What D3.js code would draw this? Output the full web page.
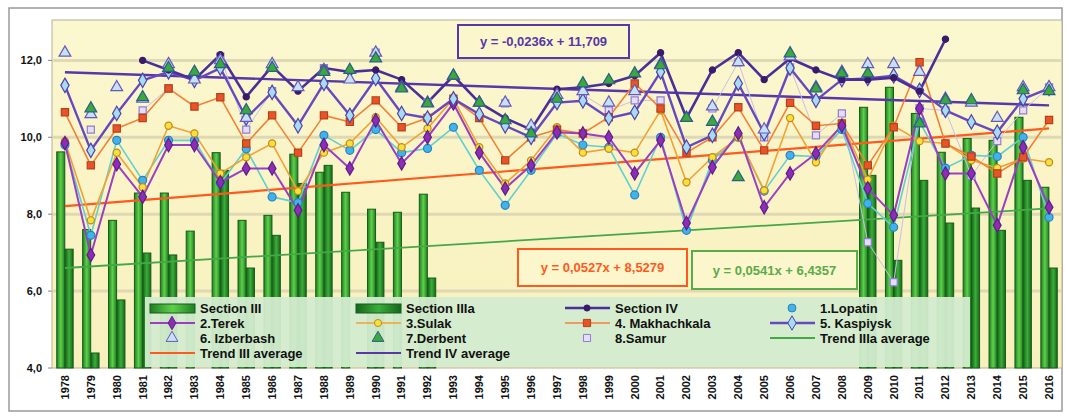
<!DOCTYPE html>
<html>
<head>
<meta charset="utf-8">
<script src="https://cdn.jsdelivr.net/npm/d3@7"></script>
<style>
  body { margin: 0; background: #fff; }
  svg { display: block; font-family: "Liberation Sans", Arial, sans-serif; }
  .lbl { font-weight: bold; fill: #111; }
</style>
</head>
<body>
<svg id="chart" width="1065" height="413"></svg>
<script>
// years on the x axis
const years = d3.range(1978, 2017);

// bars (null = no bar)
const sectionIII = [9.62, 7.6, 7.84, 8.55, 8.55, 7.56, 9.6, 7.84, 7.97, 9.56, 9.09, 8.57, 8.13, 8.05, 8.52,
  null, null, null, null, null, null, null, null, null, null, null, null, null, null, null, null,
  10.78, 11.3, 10.62, 9.61, 9.97, 9.92, 10.52, 8.7];
const sectionIIIa = [7.09, 4.39, 5.77, 6.99, 6.94, null, 9.14, 6.6, 7.45, 8.8, 9.27, null, 7.27, null, 6.34,
  null, null, null, null, null, null, null, null, null, null, null, null, null, null, null, null,
  9.01, 6.8, 8.88, 7.77, 8.16, 7.58, 8.88, 6.6];

// line series
const sectionIV = [null, null, null, 12.0, 11.75, 11.5, 12.15, 11.05, 11.85, 11.2, 11.8, 11.7, 11.75, 11.5, 10.9,
  11.6, 10.9, 10.5, 10.2, 11.25, 11.3, 11.4, 11.6, 12.2, 10.5, 11.75, 12.2, 11.5, 12.05, 11.75, 11.5,
  11.5, 11.55, 11.2, 12.55, null, null, null, null];
const lopatin = [9.8, 7.45, 9.92, 8.88, 9.92, 9.92, 8.8, 9.7, 8.45, 8.3, 10.05, 9.66, 10.2, 9.6, 9.71,
  10.26, 9.14, 8.23, 9.14, 10.1, 9.8, 9.74, 8.5, 10.0, 7.58, 9.4, 10.0, 8.6, 9.53, 9.5, 10.2,
  8.28, 7.66, 10.4, 9.2, 9.53, 9.5, 10.0, 7.92];
const terek = [9.85, 6.94, 9.3, 8.45, 9.8, 9.8, 8.83, 9.19, 9.19, 8.1, 9.8, 9.19, 10.44, 9.32, 10.0,
  10.88, 9.6, 8.67, 9.27, 10.13, 10.1, 10.0, 9.06, 9.92, 7.77, 9.22, 10.1, 8.18, 9.06, 9.58, 10.3,
  8.67, 7.97, 10.75, 9.06, 9.06, 7.71, 9.74, 8.18];
const sulak = [9.9, 7.84, 9.6, 8.7, 10.3, 10.1, 9.06, 9.48, 9.84, 8.6, 9.6, 9.84, 10.52, 9.74, 10.23,
  11.0, 9.74, 8.8, 9.4, 10.26, 9.6, 9.7, 9.6, 10.7, 8.83, 9.48, 10.0, 8.62, 10.5, 9.35, 10.36,
  8.9, 10.3, 9.9, 9.84, 9.4, 9.2, 9.45, 9.35];
const makhachkala = [10.65, 9.27, 10.23, 10.5, 11.27, 10.8, 11.04, 9.84, 10.57, 9.6, 10.57, 10.4, 10.96, 10.26, 10.5,
  11.0, 10.5, 9.4, 10.0, 10.2, 10.1, 10.52, 11.4, 10.75, 9.6, 10.0, 10.78, 9.66, 10.9, 10.3, 10.36,
  9.27, 10.26, 11.95, 9.84, 9.5, 9.06, 9.48, 10.45];
const kaspiysk = [11.35, 9.66, 10.62, 11.48, 11.7, 11.48, 11.8, 10.5, 11.17, 10.3, 11.4, 10.57, 11.53, 10.62, 10.5,
  11.0, 10.6, 10.3, 10.0, 10.9, 10.95, 10.5, 10.65, 11.7, 9.74, 10.05, 11.4, 10.1, 11.8, 10.96, 11.5,
  11.53, 11.6, 11.22, 10.7, 10.4, 10.13, 11.0, 11.27];
const izberbash = [12.2, 10.6, 11.3, 11.0, 11.9, 11.5, 12.0, 10.5, 11.9, 11.3, 11.75, 11.5, 12.2, 11.3, 10.9,
  11.6, 10.9, 10.9, 10.3, 11.1, 11.2, 10.9, 11.2, 11.9, 10.5, 10.8, 11.95, 10.2, 12.1, 11.3, 11.7,
  11.9, 11.9, 11.7, 11.0, 10.9, 10.5, 11.3, 11.3];
const derbent = [null, 10.75, null, 11.04, 11.8, 11.7, 11.9, 10.7, 11.8, null, 11.7, 11.75, 12.05, 11.27, 10.88,
  11.6, 10.9, 10.44, 10.1, 11.0, 11.4, 11.48, 11.66, 11.87, 10.5, 10.4, 8.96, null, 12.18, 11.27, 11.66,
  11.66, null, 10.36, 10.96, 10.96, null, 11.22, 11.2];
const samur = [null, 10.2, null, 10.7, 11.27, null, 12.1, 10.2, 11.2, null, 11.8, null, 12.2, null, 10.9,
  null, null, 10.88, null, null, 11.1, 10.7, 10.96, 10.96, null, 10.75, 11.95, 10.0, 11.82, 10.05, 10.62,
  7.27, 6.23, 10.75, 10.7, 9.0, 9.9, 10.7, 11.3];

// trend lines, end points
const trendIII = [[1978, 8.21], [2016, 10.23]];
const trendIV = [[1978, 11.69], [2016, 10.83]];
const trendIIIa = [[1978, 6.6], [2016, 8.15]];

const yTicks = [4, 6, 8, 10, 12];
const equations = ["y = -0,0236x + 11,709", "y = 0,0527x + 8,5279", "y = 0,0541x + 6,4357"];

const svg = d3.select("#chart");
const m = { left: 52, right: 1062, top: 20, bottom: 368 };

const x = d3.scaleBand().domain(years).range([m.left, m.right]).paddingInner(0.34).paddingOuter(0.17);
const xc = d => x(d) + x.bandwidth() / 2;
const x1 = d3.scaleBand().domain(["III", "IIIa"]).range([0, x.bandwidth()]).padding(0.04);
const y = d3.scaleLinear().domain([4, 13.05]).range([m.bottom, m.top]);

// gradients
const defs = svg.append("defs");
const bg = defs.append("linearGradient").attr("id", "bg").attr("x1", 0).attr("x2", 0).attr("y1", 0).attr("y2", 1);
bg.append("stop").attr("offset", "0%").attr("stop-color", "#fbf7cf");
bg.append("stop").attr("offset", "100%").attr("stop-color", "#f8f0bc");
function barGrad(id, mid, edge) {
  const g = defs.append("linearGradient").attr("id", id);
  g.append("stop").attr("offset", "0%").attr("stop-color", edge);
  g.append("stop").attr("offset", "50%").attr("stop-color", mid);
  g.append("stop").attr("offset", "100%").attr("stop-color", edge);
}
barGrad("gIII", "#5fd04a", "#1f7f22");
barGrad("gIIIa", "#3cae38", "#14661a");

// outer frame
svg.append("rect").attr("x", 9).attr("y", 8).attr("width", 1053).attr("height", 403)
  .attr("fill", "#fff").attr("stroke", "#9a9a9a").attr("stroke-width", 1.5);

// plot background
svg.append("rect").attr("x", m.left).attr("y", m.top).attr("width", m.right - m.left).attr("height", m.bottom - m.top)
  .attr("fill", "url(#bg)").attr("stroke", "#b8b098");

// grid
svg.append("g").selectAll("line").data(yTicks.slice(1)).join("line")
  .attr("x1", m.left).attr("x2", m.right).attr("y1", d => y(d)).attr("y2", d => y(d))
  .attr("stroke", "#d9d2b0").attr("stroke-width", 3).attr("opacity", 0.8);

// y labels
svg.append("g").selectAll("text").data(yTicks).join("text").attr("class", "lbl")
  .attr("x", 42).attr("y", d => y(d)).attr("dy", "0.35em").attr("text-anchor", "end")
  .attr("font-size", 11).text(d => d3.format(".1f")(d).replace(".", ","));
svg.append("g").selectAll("line").data(yTicks).join("line")
  .attr("x1", m.left - 4).attr("x2", m.left).attr("y1", d => y(d)).attr("y2", d => y(d)).attr("stroke", "#888");

// x labels
svg.append("g").selectAll("text").data(years).join("text").attr("class", "lbl")
  .attr("font-size", 11).attr("text-anchor", "end").attr("dy", "0.35em")
  .attr("transform", d => `translate(${xc(d)},375) rotate(-90)`).text(d => d);

// bars
const barData = [];
years.forEach((yr, i) => {
  if (sectionIII[i] != null) barData.push({ yr, k: "III", v: sectionIII[i] });
  if (sectionIIIa[i] != null) barData.push({ yr, k: "IIIa", v: sectionIIIa[i] });
});
svg.append("g").selectAll("rect").data(barData).join("rect")
  .attr("x", d => x(d.yr) + x1(d.k)).attr("width", x1.bandwidth())
  .attr("y", d => y(d.v)).attr("height", d => y(4) - y(d.v))
  .attr("fill", d => d.k === "III" ? "url(#gIII)" : "url(#gIIIa)")
  .attr("stroke", "#175c1a").attr("stroke-width", 1);

// trend lines
const tline = d3.line().x(d => xc(d[0])).y(d => y(d[1]));
svg.append("path").attr("d", tline(trendIIIa)).attr("fill", "none").attr("stroke", "#45a847").attr("stroke-width", 1.8);
svg.append("path").attr("d", tline(trendIII)).attr("fill", "none").attr("stroke", "#ff5a1e").attr("stroke-width", 2.2);
svg.append("path").attr("d", tline(trendIV)).attr("fill", "none").attr("stroke", "#5638a8").attr("stroke-width", 2.4);

// series definitions
const series = [
  { name: "8.Samur", data: samur, line: "#cbbde8", lw: 1, sym: d3.symbolSquare, size: 50, fill: "#e6dcfa", stroke: "#8f7fd0" },
  { name: "1.Lopatin", data: lopatin, line: "#60cfd0", lw: 1.6, sym: d3.symbolCircle, size: 50, fill: "#3fb4ea", stroke: "#2f7fc0" },
  { name: "3.Sulak", data: sulak, line: "#f2a232", lw: 1.6, sym: d3.symbolCircle, size: 40, fill: "#f3e23a", stroke: "#c9861e" },
  { name: "4. Makhachkala", data: makhachkala, line: "#f28238", lw: 1.6, sym: d3.symbolSquare, size: 52, fill: "#e8542a", stroke: "#b84018" },
  { name: "2.Terek", data: terek, line: "#9b3fc2", lw: 2, sym: d3.symbolDiamond, size: 52, fill: "#8d2db5", stroke: "#5e1e88" },
  { name: "5. Kaspiysk", data: kaspiysk, line: "#6649bf", lw: 2.4, sym: d3.symbolDiamond, size: 60, fill: "#a5dbf3", stroke: "#5243aa" },
  { name: "Section IV", data: sectionIV, line: "#4a2f98", lw: 2.6, sym: d3.symbolCircle, size: 30, fill: "#3a1a6a", stroke: "#3a1a6a" },
  { name: "6. Izberbash", data: izberbash, line: null, sym: d3.symbolTriangle, size: 60, fill: "#c4e2f6", stroke: "#6a58b8" },
  { name: "7.Derbent", data: derbent, line: null, sym: d3.symbolTriangle, size: 60, fill: "#3aa83a", stroke: "#2a5f8a" }
];

const ln = d3.line().defined(d => d.v != null).x(d => xc(d.yr)).y(d => y(d.v));
series.forEach(s => {
  const pts = years.map((yr, i) => ({ yr, v: s.data[i] }));
  if (s.line) {
    svg.append("path").datum(pts).attr("d", ln).attr("fill", "none")
      .attr("stroke", s.line).attr("stroke-width", s.lw).attr("stroke-linejoin", "round");
  }
  s.pts = pts;
});
series.forEach(s => {
  svg.append("g").selectAll("path").data(s.pts.filter(d => d.v != null)).join("path")
    .attr("transform", d => `translate(${xc(d.yr)},${y(d.v)})`)
    .attr("d", d3.symbol().type(s.sym).size(s.size))
    .attr("fill", s.fill).attr("stroke", s.stroke).attr("stroke-width", 1.2);
});

// equation boxes
const eqBoxes = [
  { t: equations[0], x: 458, y: 25, w: 171, h: 33, c: "#5638a8" },
  { t: equations[1], x: 518, y: 249, w: 169, h: 37, c: "#ff5a1e" },
  { t: equations[2], x: 692, y: 251, w: 165, h: 38, c: "#5aab4a" }
];
const eq = svg.append("g").selectAll("g").data(eqBoxes).join("g");
eq.append("rect").attr("x", d => d.x).attr("y", d => d.y).attr("width", d => d.w).attr("height", d => d.h)
  .attr("fill", "#fbf6cc").attr("stroke", d => d.c).attr("stroke-width", 2);
eq.append("text").attr("x", d => d.x + d.w / 2).attr("y", d => d.y + d.h / 2).attr("dy", "0.35em")
  .attr("text-anchor", "middle").attr("font-size", 13).attr("font-weight", "bold")
  .attr("fill", d => d.c).text(d => d.t);

// legend
const lg = svg.append("g");
lg.append("rect").attr("x", 145).attr("y", 297).attr("width", 825).attr("height", 70)
  .attr("fill", "#d3ebcf").attr("opacity", 0.95);
const legendItems = [
  { name: "Section III", bar: "url(#gIII)" },
  { name: "Section IIIa", bar: "url(#gIIIa)" },
  { s: "Section IV" },
  { s: "1.Lopatin", noLine: true },
  { s: "2.Terek" },
  { s: "3.Sulak" },
  { s: "4. Makhachkala" },
  { s: "5. Kaspiysk" },
  { s: "6. Izberbash" },
  { s: "7.Derbent" },
  { s: "8.Samur", noLine: true },
  { name: "Trend IIIa average", tl: "#45a847" },
  { name: "Trend III average", tl: "#ff5a1e" },
  { name: "Trend IV average", tl: "#5638a8" }
];
const colX = [150, 356, 565, 770];
const rowY = [308, 323, 338, 353];
legendItems.forEach((it, i) => {
  const cx = colX[i % 4], cy = rowY[Math.floor(i / 4)];
  const g = lg.append("g");
  if (it.bar) {
    g.append("rect").attr("x", cx).attr("y", cy - 4).attr("width", 45).attr("height", 9)
      .attr("fill", it.bar).attr("stroke", "#175c1a");
  } else if (it.tl) {
    g.append("line").attr("x1", cx).attr("x2", cx + 45).attr("y1", cy).attr("y2", cy)
      .attr("stroke", it.tl).attr("stroke-width", 2.2);
  } else {
    const s = series.find(q => q.name === it.s);
    if (s.line && !it.noLine) {
      g.append("line").attr("x1", cx).attr("x2", cx + 45).attr("y1", cy).attr("y2", cy)
        .attr("stroke", s.line).attr("stroke-width", s.lw);
    }
    g.append("path").attr("transform", `translate(${cx + 22},${cy})`)
      .attr("d", d3.symbol().type(s.sym).size(s.size)).attr("fill", s.fill).attr("stroke", s.stroke);
  }
  g.append("text").attr("class", "lbl").attr("x", cx + 50).attr("y", cy).attr("dy", "0.35em")
    .attr("font-size", 13).text(it.name || it.s);
});
</script>
</body>
</html>
